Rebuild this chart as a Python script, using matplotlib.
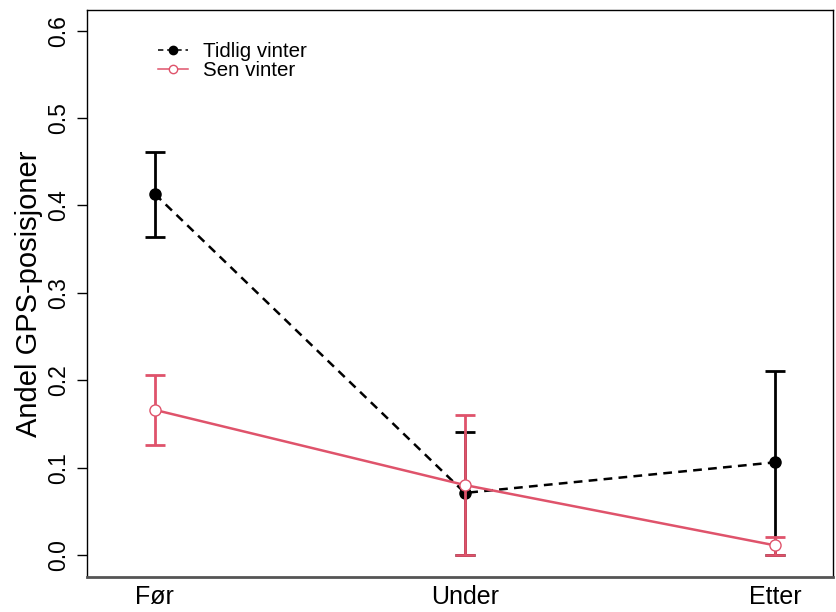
import matplotlib
matplotlib.use("Agg")
import matplotlib.pyplot as plt
import numpy as np

plt.rcParams["font.family"] = ["Liberation Sans", "DejaVu Sans"]

periods = ["Før", "Under", "Etter"]
series_names = ["Tidlig vinter", "Sen vinter"]

# proportion of GPS positions and error-bar limits
tidlig_mean = [0.413, 0.071, 0.106]
tidlig_low = [0.364, 0.0, 0.0]
tidlig_high = [0.461, 0.141, 0.211]

sen_mean = [0.166, 0.080, 0.011]
sen_low = [0.126, 0.0, 0.0]
sen_high = [0.206, 0.160, 0.020]

RED = "#DF536B"

fig = plt.figure(figsize=(8.36, 6.12), dpi=100)
ax = fig.add_axes([0.104, 0.0572, 0.8924, 0.9265])

x = np.arange(1, len(periods) + 1)


def draw(mean, low, high, color, ls, mfc, zo, label):
    mean = np.asarray(mean)
    yerr = [mean - np.asarray(low), np.asarray(high) - mean]
    ax.errorbar(x, mean, yerr=yerr, fmt="none", ecolor=color, elinewidth=2.0,
                capsize=7, capthick=2.0, zorder=zo)
    ax.plot(x, mean, color=color, lw=1.8, ls=ls, zorder=zo + 0.5)
    ax.plot(x, mean, ls="none", marker="o", ms=8, mfc=mfc, mec=color,
            mew=1.0, zorder=zo + 1)
    # legend handle
    ax.plot([], [], color=color, lw=1.1, ls=ls, marker="o", ms=6,
            mfc=mfc, mec=color, mew=1.0, label=label)


draw(tidlig_mean, tidlig_low, tidlig_high, "black", (0, (3.5, 2.5)), "black", 2,
     series_names[0])
draw(sen_mean, sen_low, sen_high, RED, "-", "white", 4, series_names[1])

ax.set_xlim(0.781, 3.187)
ax.set_ylim(-0.0252, 0.6236)
ax.set_xticks(x)
ax.set_xticklabels(periods, fontsize=18)
ax.tick_params(axis="x", length=0, pad=6)
ax.set_yticks(np.arange(0, 0.61, 0.1))
ax.set_yticklabels([f"{v:.1f}" for v in np.arange(0, 0.61, 0.1)],
                   rotation=90, va="center", fontsize=16.5)
ax.tick_params(axis="y", length=7, width=1, pad=5)
ax.set_ylabel("Andel GPS-posisjoner", fontsize=21, labelpad=3)

for s in ["left", "top", "right"]:
    ax.spines[s].set_linewidth(1.0)
ax.spines["bottom"].set_color("#555555")
ax.spines["bottom"].set_linewidth(2.0)

ax.legend(loc="upper left", bbox_to_anchor=(0.0952, 0.9436), frameon=False,
          fontsize=14.8, handlelength=1.46, handletextpad=0.73,
          labelspacing=0.01, borderpad=0, borderaxespad=0)

fig.savefig("out.png", dpi=100)
